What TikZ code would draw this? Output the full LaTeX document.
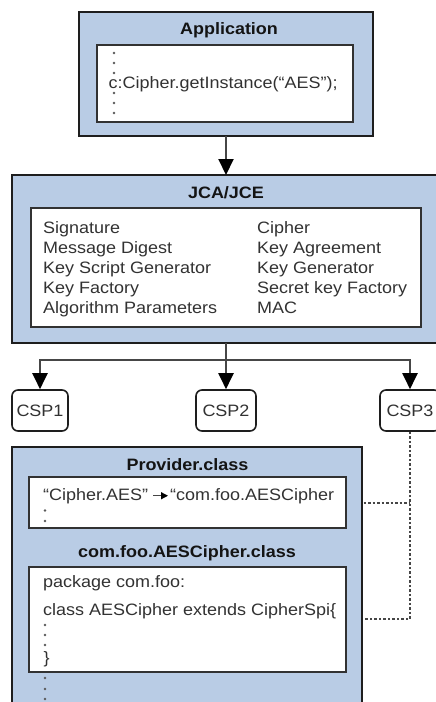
\documentclass[tikz,border=0pt]{standalone}
\usepackage{fontspec}
\setmainfont{Liberation Sans}[FakeStretch=1.09]
\usetikzlibrary{arrows.meta}
\definecolor{boxblue}{RGB}{185,204,229}
\definecolor{edgec}{RGB}{30,30,30}
\definecolor{innerc}{RGB}{50,50,50}
\definecolor{txtc}{RGB}{50,50,50}
\definecolor{titlec}{RGB}{20,20,20}
\definecolor{linec}{RGB}{70,70,70}
\definecolor{dotcol}{RGB}{90,90,90}
\newcommand{\bodyfont}{\fontsize{16.5}{20}\selectfont}
\begin{document}
\begin{tikzpicture}[x=1pt,y=-1pt,
  outer/.style={draw=edgec, line width=2.6pt, fill=boxblue, inner sep=0pt, outer sep=0pt},
  inner/.style={draw=innerc, line width=1.8pt, fill=white, inner sep=0pt, outer sep=0pt},
  csp/.style={draw=edgec, line width=1.6pt, fill=white, rounded corners=6pt, minimum height=41pt, inner sep=0pt, font=\bodyfont, text=txtc},
  title/.style={font=\bfseries\bodyfont, anchor=base, text=titlec, inner sep=0pt},
  code/.style={font=\bodyfont, anchor=base west, text=txtc, inner sep=0pt},
  conn/.style={draw=linec, line width=2pt},
  arr/.style={conn, -{Triangle[width=15pt,length=16pt,color=black,fill=black]}},
  smallarr/.style={draw=linec, line width=1.3pt, -{Triangle[width=7pt,length=7pt,color=black,fill=black]}},
  dotline/.style={draw=linec, line width=1.6pt, dash pattern=on 2.5pt off 2pt},
  pt/.style={circle, fill=dotcol, inner sep=0pt, minimum size=2.8pt}]
\useasboundingbox (0,0) rectangle (436,702);
\clip (0,0) rectangle (436,702);
\fill[white] (0,0) rectangle (436,702);

% Application
\node[outer, minimum width=294pt, minimum height=124pt] (app) at (226,74) {};
\node[title] (apptitle) at (229,34.5) {Application};
\node[inner, minimum width=256pt, minimum height=77pt] (appin) at (225,83.5) {};
\node[code] (appcode) at (108.5,88.5) {c:Cipher.getInstance(“AES”);};
\foreach \y [count=\i] in {53,63,73,93,103,113} \node[pt] (ad\i) at (114,\y) {};

% JCA/JCE
\node[outer, minimum width=428pt, minimum height=168pt] (jca) at (226,259) {};
\node[title] (jcatitle) at (226,198.3) {JCA/JCE};
\node[inner, minimum width=390pt, minimum height=119pt] (jcain) at (226,267.5) {};
\node[code] (l1) at (43,233.3) {Signature};
\node[code] (l2) at (43,253.3) {Message Digest};
\node[code] (l3) at (43,273.3) {Key Script Generator};
\node[code] (l4) at (43,293.3) {Key Factory};
\node[code] (l5) at (43,313.3) {Algorithm Parameters};
\node[code] (r1) at (257,233.3) {Cipher};
\node[code] (r2) at (257,253.3) {Key Agreement};
\node[code] (r3) at (257,273.3) {Key Generator};
\node[code] (r4) at (257,293.3) {Secret key Factory};
\node[code] (r5) at (257,313.3) {MAC};

\draw[arr] (app.south) -- (jca.north);

% CSPs
\node[csp, minimum width=56pt] (csp1) at (40,410.5) {CSP1};
\node[csp, minimum width=60pt] (csp2) at (226,410.5) {CSP2};
\node[csp, minimum width=60pt] (csp3) at (410,410.5) {CSP3};
\coordinate (split) at (226,360);
\draw[conn] (jca.south) -- (split);
\draw[arr] (split) -| (csp1.north);
\draw[arr] (split) -- (csp2.north);
\draw[arr] (split) -| (csp3.north);

% Provider
\node[outer, minimum width=350pt, minimum height=265pt] (prov) at (187,579.5) {};
\node[title] (provtitle) at (187.5,470.5) {Provider.class};
\node[inner, minimum width=317pt, minimum height=51pt] (provin) at (187.5,502.5) {};
\node[code] (ciph) at (43,500) {“Cipher.AES”};
\node[code] (foo) at (170,500) {“com.foo.AESCipher};
\draw[smallarr] ([xshift=5pt]ciph.east) -- ([xshift=-2pt]foo.west);
\foreach \y [count=\i] in {510.5,521} \node[pt] (pd\i) at (45,\y) {};

\node[title] (clstitle) at (187,557) {com.foo.AESCipher.class};
\node[inner, minimum width=317pt, minimum height=105pt] (clsin) at (187.5,619.5) {};
\node[code] (pkg) at (43,587) {package com.foo:};
\node[code] (cls) at (43,615) {class AESCipher extends CipherSpi\{};
\foreach \y [count=\i] in {625,635,645} \node[pt] (cd\i) at (45,\y) {};
\node[code] (brace) at (43.5,663) {\}};
\foreach \y [count=\i] in {678,689,699} \node[pt] (bd\i) at (45,\y) {};

% dotted links
\coordinate (d1) at (363.5,503);
\coordinate (d2) at (363.5,619);
\draw[dotline] (csp3.south) |- (d2);
\draw[dotline] (d1) -- (d1 -| csp3.south);
\end{tikzpicture}
\end{document}
